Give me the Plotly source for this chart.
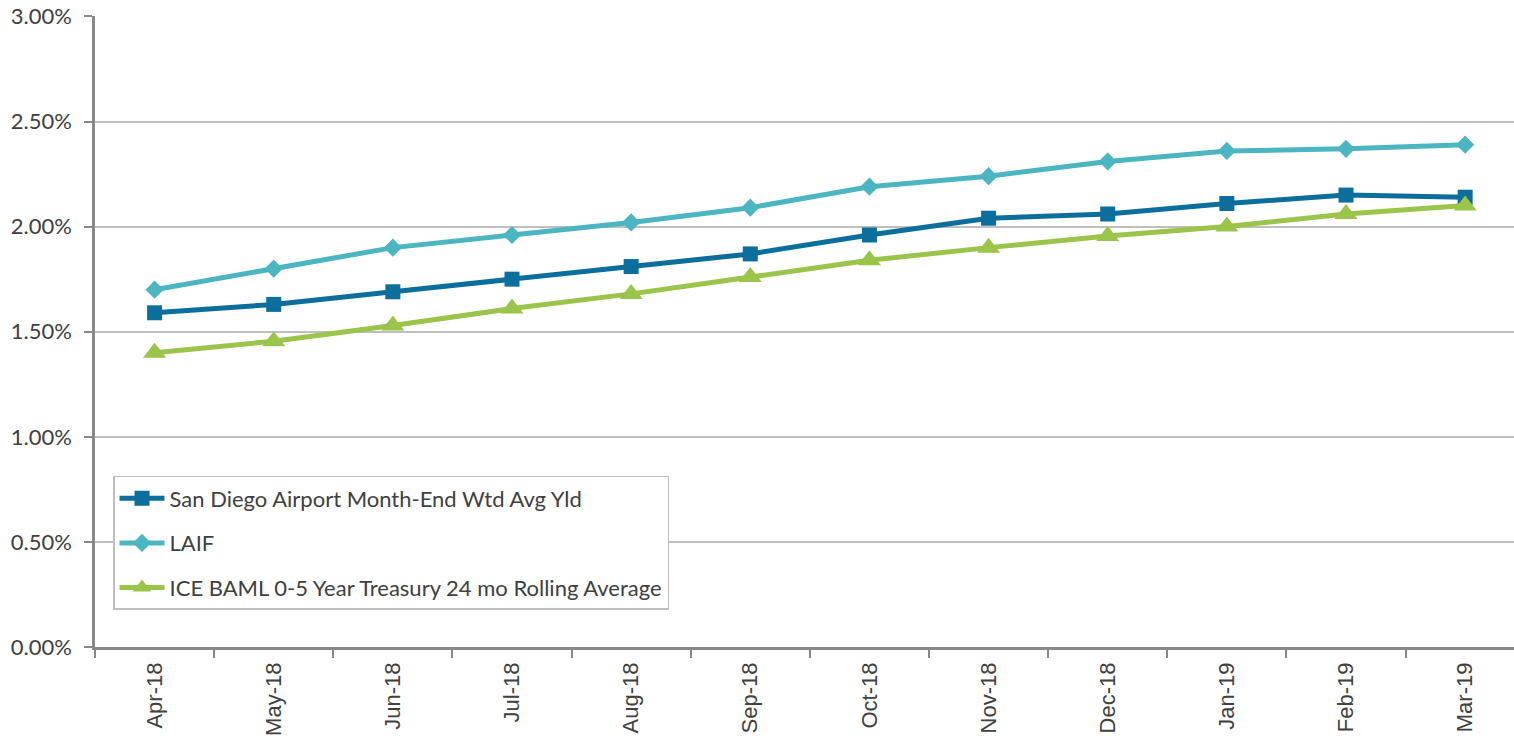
import plotly.graph_objects as go

months = ["Apr-18", "May-18", "Jun-18", "Jul-18", "Aug-18", "Sep-18",
          "Oct-18", "Nov-18", "Dec-18", "Jan-19", "Feb-19", "Mar-19"]
san_diego = [0.0159, 0.0163, 0.0169, 0.0175, 0.0181, 0.0187,
             0.0196, 0.0204, 0.0206, 0.0211, 0.0215, 0.0214]
laif = [0.0170, 0.0180, 0.0190, 0.0196, 0.0202, 0.0209,
        0.0219, 0.0224, 0.0231, 0.0236, 0.0237, 0.0239]
ice_baml = [0.0140, 0.01455, 0.0153, 0.0161, 0.0168, 0.0176,
            0.0184, 0.0190, 0.01955, 0.0200, 0.0206, 0.0210]

names = ["San Diego Airport Month-End Wtd Avg Yld", "LAIF",
         "ICE BAML 0-5 Year Treasury 24 mo Rolling Average"]
colors = ["#0B6E9C", "#4BB5C2", "#9BC44A"]
symbols = ["square", "diamond", "triangle-up"]
sizes = [15, 14, 20]

fig = go.Figure()
for i, (nm, vals) in enumerate(zip(names, [san_diego, laif, ice_baml])):
    fig.add_trace(go.Scatter(
        x=months, y=vals, name=nm, mode="lines+markers",
        line=dict(color=colors[i], width=5),
        marker=dict(symbol=symbols[i], size=sizes[i], color=colors[i]),
        legendgroup="g%d" % i,
    ))

fig.update_layout(
    width=1514, height=736,
    margin=dict(l=95, r=0, t=16, b=89, autoexpand=False),
    plot_bgcolor="white", paper_bgcolor="white",
    showlegend=True,
    legend=dict(
        x=0.0127, y=0.271, xanchor="left", yanchor="top",
        bordercolor="#BFBFBF", borderwidth=1.5, bgcolor="white",
        font=dict(family="Lato, Open Sans, sans-serif", size=22, color="#404040"),
        tracegroupgap=13,
        itemwidth=45,
    ),
    xaxis=dict(
        type="category",
        range=[-0.5, 11.41],
        automargin=False,
        tickson="boundaries",
        ticks="outside", ticklen=8, tickcolor="#888888", tickwidth=2,
        ticklabelstandoff=4,
        showline=True, linecolor="#888888", linewidth=2.5,
        showgrid=False,
        tickangle=-90,
        tickfont=dict(family="Liberation Sans, Arial, sans-serif", size=22, color="#404040"),
    ),
    yaxis=dict(
        range=[0, 0.03002], dtick=0.005, tickformat=".2%",
        automargin=False,
        ticks="outside", ticklen=8, tickcolor="#888888", tickwidth=2,
        ticklabelstandoff=8,
        ticklabeloverflow="allow",
        showline=True, linecolor="#888888", linewidth=2.5,
        showgrid=True, gridcolor="#BFBFBF", gridwidth=2,
        zeroline=False,
        tickfont=dict(family="Lato, Open Sans, sans-serif", size=22, color="#404040"),
    ),
)

fig.write_html("out.html", config={"displayModeBar": False},
               post_script="document.body.style.margin='0';")
